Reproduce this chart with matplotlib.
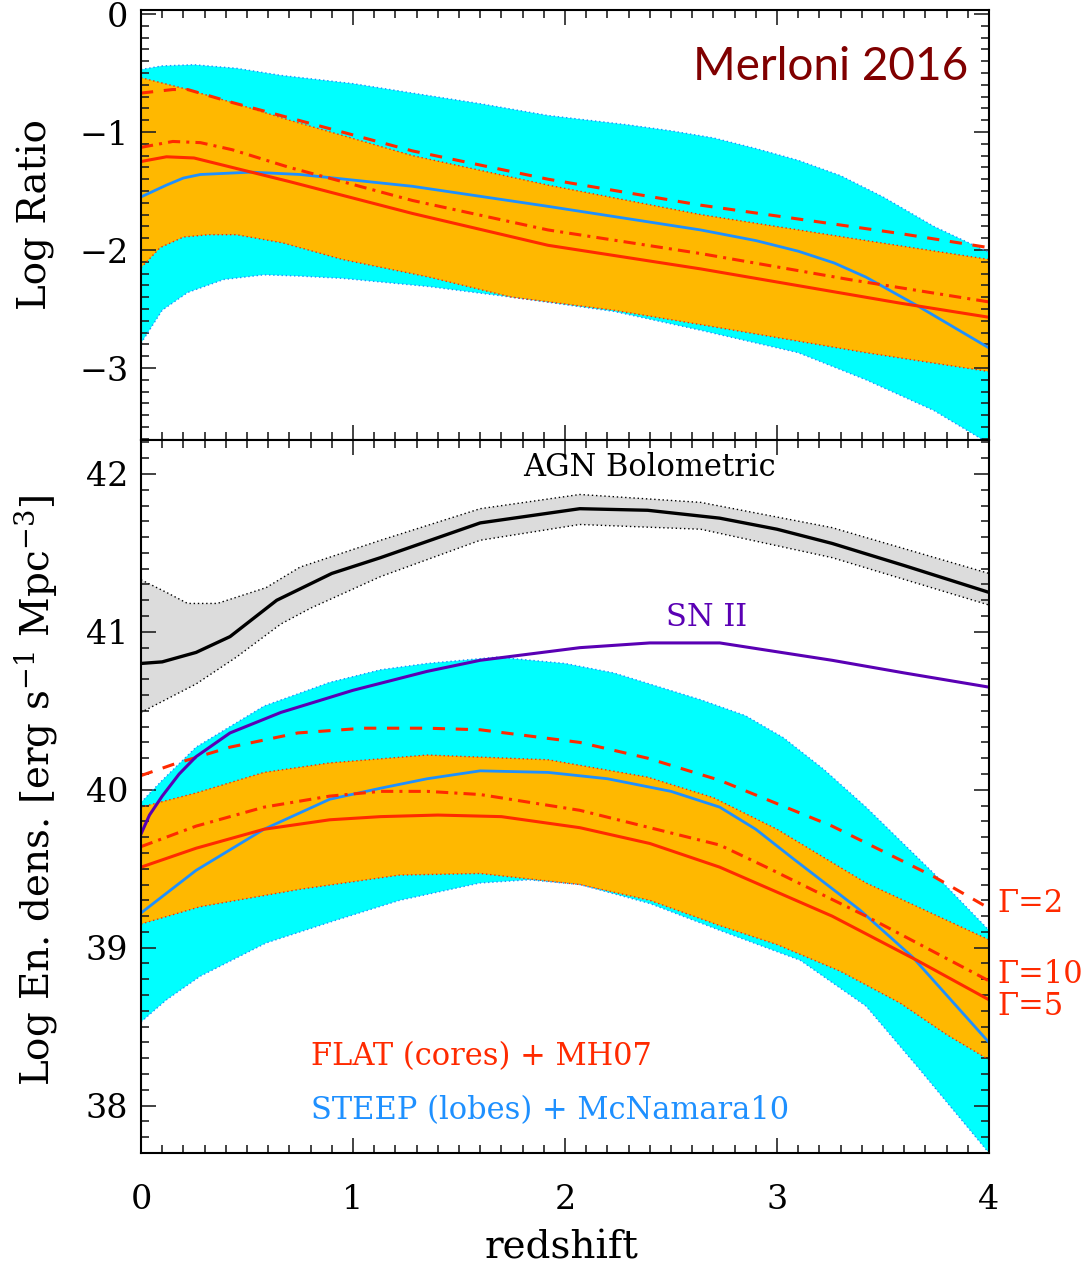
import numpy as np
import matplotlib.pyplot as plt
from matplotlib.ticker import MultipleLocator

# ---- top panel: log ratio ----
r_cyan_hi_z = [0, 0.1, 0.25, 0.45, 0.66, 1.0, 1.28, 1.6, 1.92, 2.3, 2.5, 2.7, 2.9, 3.1, 3.3, 3.5, 3.74, 4.0]
r_cyan_hi = [-0.47, -0.44, -0.43, -0.46, -0.52, -0.59, -0.67, -0.76, -0.86, -0.94, -0.99, -1.05, -1.14, -1.24, -1.37, -1.55, -1.80, -2.02]
r_cyan_lo_z = [0, 0.1, 0.22, 0.39, 0.58, 0.74, 0.95, 1.36, 1.75, 2.23, 2.64, 3.1, 3.42, 3.74, 4.0]
r_cyan_lo = [-2.79, -2.51, -2.36, -2.25, -2.21, -2.22, -2.24, -2.31, -2.40, -2.52, -2.68, -2.87, -3.10, -3.36, -3.64]
r_orng_hi_z = [0, 0.2, 0.43, 0.7, 1.28, 1.92, 2.64, 3.42, 4.0]
r_orng_hi = [-0.54, -0.63, -0.75, -0.90, -1.20, -1.45, -1.70, -1.92, -2.08]
r_orng_lo_z = [0, 0.09, 0.2, 0.32, 0.45, 0.67, 0.95, 1.36, 1.75, 2.23, 2.7, 3.42, 4.0]
r_orng_lo = [-2.15, -1.98, -1.89, -1.87, -1.87, -1.94, -2.08, -2.23, -2.40, -2.51, -2.65, -2.87, -3.03]

r_g2_z = [0, 0.15, 0.22, 0.43, 0.7, 1.28, 1.92, 2.64, 3.19, 3.58, 4.0]
r_g2 = [-0.67, -0.64, -0.64, -0.75, -0.88, -1.16, -1.40, -1.62, -1.76, -1.86, -1.98]
r_g10_z = [0, 0.15, 0.28, 0.43, 0.7, 1.28, 1.92, 2.64, 3.34, 4.0]
r_g10 = [-1.13, -1.08, -1.09, -1.15, -1.30, -1.58, -1.83, -2.03, -2.25, -2.44]
r_g5_z = [0, 0.12, 0.25, 0.43, 0.7, 1.28, 1.92, 2.64, 3.58, 4.0]
r_g5 = [-1.25, -1.21, -1.22, -1.30, -1.42, -1.69, -1.96, -2.16, -2.45, -2.57]
r_steep_z = [0, 0.06, 0.12, 0.2, 0.28, 0.52, 0.75, 1.28, 1.92, 2.64, 2.9, 3.1, 3.27, 3.42, 3.66, 4.0]
r_steep = [-1.55, -1.50, -1.45, -1.39, -1.36, -1.34, -1.36, -1.46, -1.63, -1.83, -1.92, -2.01, -2.11, -2.23, -2.47, -2.83]

# ---- bottom panel: log energy density ----
agn_z = [0, 0.1, 0.26, 0.42, 0.64, 0.9, 1.13, 1.6, 2.07, 2.39, 2.73, 3.0, 3.26, 3.6, 4.0]
agn = [40.80, 40.81, 40.87, 40.97, 41.20, 41.37, 41.47, 41.69, 41.78, 41.77, 41.72, 41.65, 41.56, 41.42, 41.25]
agn_hi_z = [0, 0.12, 0.22, 0.36, 0.59, 0.75, 1.13, 1.6, 2.07, 2.64, 3.26, 4.0]
agn_hi = [41.33, 41.25, 41.18, 41.18, 41.28, 41.41, 41.58, 41.78, 41.87, 41.82, 41.66, 41.37]
agn_lo_z = [0, 0.26, 0.45, 0.66, 0.8, 1.13, 1.6, 2.07, 2.64, 3.26, 4.0]
agn_lo = [40.49, 40.67, 40.84, 41.05, 41.15, 41.35, 41.58, 41.68, 41.65, 41.47, 41.17]

sn_z = [0, 0.04, 0.1, 0.18, 0.26, 0.42, 0.66, 1.0, 1.35, 1.6, 2.07, 2.4, 2.73, 3.26, 3.6, 4.0]
sn = [39.72, 39.84, 39.96, 40.10, 40.21, 40.36, 40.49, 40.63, 40.75, 40.82, 40.90, 40.93, 40.93, 40.82, 40.74, 40.65]

e_cyan_hi_z = [0, 0.1, 0.26, 0.58, 0.89, 1.13, 1.35, 1.68, 2.0, 2.23, 2.64, 2.85, 3.03, 3.22, 3.42, 3.74, 4.0]
e_cyan_hi = [39.92, 40.06, 40.27, 40.53, 40.68, 40.76, 40.80, 40.84, 40.80, 40.74, 40.57, 40.47, 40.33, 40.13, 39.89, 39.47, 39.11]
e_cyan_lo_z = [0, 0.12, 0.28, 0.59, 0.91, 1.22, 1.6, 1.83, 2.07, 2.4, 2.73, 3.11, 3.42, 3.66, 4.0]
e_cyan_lo = [38.53, 38.67, 38.82, 39.03, 39.17, 39.30, 39.41, 39.43, 39.40, 39.28, 39.11, 38.92, 38.63, 38.25, 37.70]
e_orng_hi_z = [0, 0.26, 0.58, 0.89, 1.35, 1.92, 2.39, 2.7, 3.0, 3.42, 4.0]
e_orng_hi = [39.89, 39.98, 40.11, 40.17, 40.22, 40.19, 40.08, 39.95, 39.75, 39.41, 39.05]
e_orng_lo_z = [0, 0.28, 0.75, 1.22, 1.6, 2.07, 2.4, 2.73, 3.0, 3.3, 3.58, 3.8, 4.0]
e_orng_lo = [39.15, 39.26, 39.37, 39.46, 39.47, 39.40, 39.30, 39.14, 39.02, 38.85, 38.65, 38.45, 38.29]

e_g2_z = [0, 0.15, 0.42, 0.74, 1.05, 1.35, 1.6, 2.07, 2.39, 2.73, 3.26, 3.74, 4.0]
e_g2 = [40.09, 40.16, 40.27, 40.36, 40.39, 40.39, 40.38, 40.30, 40.20, 40.06, 39.77, 39.45, 39.25]
e_g10_z = [0, 0.26, 0.58, 0.89, 1.13, 1.35, 1.6, 2.07, 2.73, 2.95, 3.42, 4.0]
e_g10 = [39.64, 39.77, 39.89, 39.96, 39.99, 39.99, 39.97, 39.87, 39.65, 39.51, 39.20, 38.79]
e_g5_z = [0, 0.26, 0.58, 0.89, 1.13, 1.4, 1.7, 2.07, 2.4, 2.73, 3.26, 3.66, 4.0]
e_g5 = [39.51, 39.63, 39.75, 39.81, 39.83, 39.84, 39.83, 39.76, 39.66, 39.51, 39.20, 38.92, 38.67]
e_steep_z = [0, 0.26, 0.58, 0.89, 1.13, 1.35, 1.6, 1.92, 2.2, 2.5, 2.73, 2.9, 3.08, 3.39, 3.64, 4.0]
e_steep = [39.22, 39.49, 39.75, 39.94, 40.01, 40.07, 40.12, 40.11, 40.07, 39.99, 39.89, 39.75, 39.56, 39.24, 38.94, 38.40]

gamma_labels = ["Γ=2", "Γ=10", "Γ=5"]
gamma_label_y = [39.28, 38.83, 38.63]

RED = "#ff2a00"
BLUE = "#1e90ff"
CYAN = "#00ffff"
ORANGE = "#ffb800"
PURPLE = "#5a00b4"
GRAY = "#dcdcdc"

plt.rcParams["font.family"] = ["DejaVu Serif"]
plt.rcParams["mathtext.fontset"] = "dejavuserif"

fig = plt.figure(figsize=(10.87, 12.70), dpi=100)
L, R = 141 / 1087, 989 / 1087
y_mid = 1 - 440 / 1270
ax1 = fig.add_axes([L, y_mid, R - L, (1 - 10 / 1270) - y_mid])
ax2 = fig.add_axes([L, 1 - 1153 / 1270, R - L, y_mid - (1 - 1153 / 1270)])


def band(ax, zu, yu, zl, yl, color, edge):
    xs = np.concatenate([zu, zl[::-1]])
    ys = np.concatenate([yu, yl[::-1]])
    ax.fill(xs, ys, color=color, lw=0, zorder=1)
    ax.plot(zu, yu, ls=(0, (1, 2)), lw=1, color=edge, zorder=2)
    ax.plot(zl, yl, ls=(0, (1, 2)), lw=1, color=edge, zorder=2)


def gamma_lines(ax, z2, y2, z10, y10, z5, y5):
    ax.plot(z2, y2, color=RED, lw=2.2, ls=(0, (4, 3.5)), zorder=4)
    ax.plot(z10, y10, color=RED, lw=2.2, ls=(0, (4, 2, 1, 2)), zorder=4)
    ax.plot(z5, y5, color=RED, lw=2.2, zorder=4)


# top panel
band(ax1, np.array(r_cyan_hi_z), r_cyan_hi, np.array(r_cyan_lo_z), r_cyan_lo, CYAN, BLUE)
band(ax1, np.array(r_orng_hi_z), r_orng_hi, np.array(r_orng_lo_z), r_orng_lo, ORANGE, RED)
ax1.plot(r_steep_z, r_steep, color=BLUE, lw=2, zorder=4)
gamma_lines(ax1, r_g2_z, r_g2, r_g10_z, r_g10, r_g5_z, r_g5)
ax1.text(3.90, -0.56, "Merloni 2016", family="Lato", fontsize=33, color="#800000",
         ha="right", va="baseline")

# bottom panel
band(ax2, np.array(e_cyan_hi_z), e_cyan_hi, np.array(e_cyan_lo_z), e_cyan_lo, CYAN, BLUE)
band(ax2, np.array(e_orng_hi_z), e_orng_hi, np.array(e_orng_lo_z), e_orng_lo, ORANGE, RED)
band(ax2, np.array(agn_hi_z), agn_hi, np.array(agn_lo_z), agn_lo, GRAY, "black")
ax2.plot(agn_z, agn, color="black", lw=2.4, zorder=4)
ax2.plot(sn_z, sn, color=PURPLE, lw=2.2, zorder=5)
ax2.plot(e_steep_z, e_steep, color=BLUE, lw=2, zorder=4)
gamma_lines(ax2, e_g2_z, e_g2, e_g10_z, e_g10, e_g5_z, e_g5)

ax2.text(2.40, 42.04, "AGN Bolometric", fontsize=22, ha="center", va="center")
ax2.text(2.67, 41.09, "SN II", fontsize=22, color=PURPLE, ha="center", va="center")
ax2.text(0.80, 38.31, "FLAT (cores) + MH07", fontsize=22, color=RED, va="center")
ax2.text(0.80, 37.97, "STEEP (lobes) + McNamara10", fontsize=22, color=BLUE, va="center")
for lab, yy in zip(gamma_labels, gamma_label_y):
    ax2.text(4.04, yy, lab, fontsize=22, color=RED, va="center", clip_on=False)

for ax in (ax1, ax2):
    ax.set_xlim(0, 4)
    ax.xaxis.set_major_locator(MultipleLocator(1))
    ax.xaxis.set_minor_locator(MultipleLocator(0.1))
    ax.yaxis.set_major_locator(MultipleLocator(1))
    ax.yaxis.set_minor_locator(MultipleLocator(0.1))
    ax.tick_params(which="both", direction="in", top=True, right=True, width=1.2,
                   labelsize=24, color="#222222")
    ax.tick_params(which="major", length=11)
    ax.tick_params(which="minor", length=6)
    ax.tick_params(axis="y", pad=9)
    ax.tick_params(axis="x", pad=22)
    for s in ax.spines.values():
        s.set_linewidth(1.5)
        s.set_zorder(10)

ax1.set_ylim(-3.61, 0.034)
ax1.tick_params(labelbottom=False)
ax1.set_yticks([-3, -2, -1, 0])
ax1.set_yticklabels(["\u22123", "\u22122", "\u22121", "0"])
ax2.set_ylim(37.70, 42.215)

fig.text(36 / 1087, 1 - 215 / 1270, "Log Ratio", rotation=90, fontsize=28,
         ha="center", va="center")
fig.text(36 / 1087, 1 - 790 / 1270, "Log En. dens. [erg s$^{-1}$ Mpc$^{-3}$]",
         rotation=90, fontsize=28, ha="center", va="center")
fig.text(562 / 1087, 1 - 1248 / 1270, "redshift", fontsize=28, ha="center", va="center")

fig.savefig("out.png", dpi=100)
